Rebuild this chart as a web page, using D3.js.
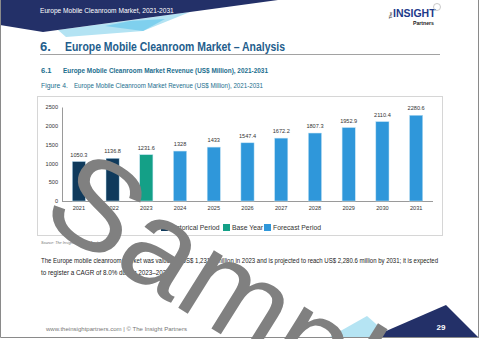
<!DOCTYPE html>
<html><head><meta charset="utf-8">
<script src="https://cdn.jsdelivr.net/npm/d3@7"></script>
<style>
html,body{margin:0;padding:0;background:#fff;}
svg{display:block;}
text{font-family:"Liberation Sans Narrow","Liberation Sans",Arial,sans-serif;}
</style></head>
<body>
<svg id="c" width="480" height="339"></svg>
<script>
const years = ["2021","2022","2023","2024","2025","2026","2027","2028","2029","2030","2031"];
const values = [1050.3,1136.8,1231.6,1328,1433,1547.4,1672.2,1807.3,1952.9,2110.4,2280.6];
const periods = ["Historical Period","Historical Period","Base Year","Forecast Period","Forecast Period","Forecast Period","Forecast Period","Forecast Period","Forecast Period","Forecast Period","Forecast Period"];
const legendItems = ["Historical Period","Base Year","Forecast Period"];
const yTicks = [0,500,1000,1500,2000,2500];
const periodColors = ["#0f3a5c","#14a087","#2f97da"];

const svg = d3.select("#c");

// page decoration
svg.append("polygon").attr("points","58,30 66,37 143,31 190,12 140,19").attr("fill","#b3e3f3");
svg.append("polygon").attr("points","105,26 143,31 165,19 130,21").attr("fill","#7fd0ee");
svg.append("polygon").attr("points","0,0 278,0 43,32 0,25").attr("fill","#233068");
svg.append("text").attr("x",40).attr("y",13).attr("fill","#fff").attr("font-size",6.6)
  .text("Europe Mobile Cleanroom Market, 2021-2031");

// logo
const logo = svg.append("g");
logo.append("text").attr("transform","translate(392,19) rotate(-90)").attr("font-size",4).attr("font-weight","bold").attr("fill","#333").text("The");
logo.append("text").attr("x",393).attr("y",17).attr("font-size",10.5).attr("font-weight","bold").attr("fill","#1d3a8a")
  .attr("font-family","Liberation Sans,Arial,sans-serif").text("INSIGHT");
logo.append("circle").attr("cx",437).attr("cy",7).attr("r",3.5).attr("fill","none").attr("stroke","#bbb").attr("stroke-width",0.8);
logo.append("text").attr("x",434).attr("y",25).attr("text-anchor","end").attr("font-size",5.2).attr("font-weight","bold").attr("fill","#222").text("Partners");

// headings
svg.append("text").attr("x",40).attr("y",51).attr("font-size",13).attr("font-weight","bold").attr("fill","#235d8c").text("6.");
svg.append("text").attr("x",65).attr("y",51).attr("font-size",13).attr("font-weight","bold").attr("fill","#235d8c")
  .attr("textLength",220).attr("lengthAdjust","spacingAndGlyphs")
  .text("Europe Mobile Cleanroom Market – Analysis");
svg.append("line").attr("x1",40).attr("x2",440).attr("y1",54.5).attr("y2",54.5).attr("stroke","#8a8a8a").attr("stroke-width",0.8);
svg.append("text").attr("x",41).attr("y",73).attr("font-size",7.6).attr("font-weight","bold").attr("fill","#1b6e8e").text("6.1");
svg.append("text").attr("x",63).attr("y",73).attr("font-size",7.6).attr("font-weight","bold").attr("fill","#1b6e8e")
  .attr("textLength",205).attr("lengthAdjust","spacingAndGlyphs")
  .text("Europe Mobile Cleanroom Market Revenue (US$ Million), 2021-2031");
svg.append("text").attr("x",41).attr("y",88).attr("font-size",6.8).attr("fill","#1b6e8e").text("Figure 4.");
svg.append("text").attr("x",74).attr("y",88).attr("font-size",6.8).attr("fill","#1b6e8e")
  .attr("textLength",189).attr("lengthAdjust","spacingAndGlyphs")
  .text("Europe Mobile Cleanroom Market Revenue (US$ Million), 2021-2031");

// chart box
svg.append("rect").attr("x",37.5).attr("y",96.5).attr("width",405).attr("height",139)
  .attr("fill","#fff").attr("stroke","#d6d6d6").attr("stroke-width",1);

const x = d3.scaleBand().domain(years).range([62,433]).paddingInner(0.61).paddingOuter(0.305);
const y = d3.scaleLinear().domain([0,2500]).range([201,107]);
const color = d3.scaleOrdinal().domain(legendItems).range(periodColors);

const yAxis = svg.append("g").attr("transform","translate(62,0)")
  .call(d3.axisLeft(y).tickValues(yTicks).tickFormat(d3.format("d")).tickSize(0).tickPadding(4));
yAxis.select(".domain").attr("stroke","#9a9a9a");
yAxis.selectAll("text").attr("font-size",5.6).attr("fill","#333").attr("font-family","Liberation Serif,serif");

const xAxis = svg.append("g").attr("transform","translate(0,201)")
  .call(d3.axisBottom(x).tickSize(0).tickPadding(5));
xAxis.select(".domain").attr("stroke","#9a9a9a").attr("d","M62,0.5H433");
xAxis.selectAll("text").attr("font-size",5.6).attr("fill","#333").attr("font-family","Liberation Serif,serif");

svg.append("g").selectAll("rect").data(years).join("rect")
  .attr("x",d=>x(d)).attr("width",x.bandwidth())
  .attr("y",(d,i)=>y(values[i])).attr("height",(d,i)=>y(0)-y(values[i]))
  .attr("fill",(d,i)=>color(periods[i])).attr("stroke","#bfe2f4").attr("stroke-width",0.5);

svg.append("g").selectAll("text").data(years).join("text")
  .attr("x",d=>x(d)+x.bandwidth()/2).attr("y",(d,i)=>y(values[i])-5)
  .attr("text-anchor","middle").attr("font-size",5.6).attr("fill","#333").attr("font-family","Liberation Serif,serif")
  .text((d,i)=>values[i]);

// legend
const legX = [161,223,264];
const leg = svg.append("g").selectAll("g").data(legendItems).join("g")
  .attr("transform",(d,i)=>`translate(${legX[i]},224)`);
leg.append("rect").attr("width",7).attr("height",7).attr("fill",d=>color(d));
leg.append("text").attr("x",9).attr("y",6.3).attr("font-size",6.8).attr("fill","#333")
  .attr("font-family","Liberation Sans,Arial,sans-serif").text(d=>d);

svg.append("text").attr("x",41).attr("y",244).attr("font-size",3.8).attr("font-style","italic").attr("fill","#777")
  .text("Source: The Insight Partners Analysis");

svg.append("text").attr("x",41).attr("y",263).attr("font-size",6.3).attr("fill","#222")
  .attr("textLength",397).attr("lengthAdjust","spacingAndGlyphs")
  .text("The Europe mobile cleanroom market was valued at US$ 1,231.6 million in 2023 and is projected to reach US$ 2,280.6 million by 2031; it is expected");
svg.append("text").attr("x",41).attr("y",275).attr("font-size",6.3).attr("fill","#222")
  .text("to register a CAGR of 8.0% during 2023–2031.");

// footer
svg.append("text").attr("x",46).attr("y",331).attr("font-size",5.6).attr("fill","#777")
  .attr("textLength",141).attr("lengthAdjust","spacingAndGlyphs")
  .text("www.theinsightpartners.com  |  © The Insight Partners");
svg.append("polygon").attr("points","328,338 367,316 392,338").attr("fill","#b5e4f3");
svg.append("polygon").attr("points","370,338 446,305 479,338").attr("fill","#233068");
svg.append("text").attr("x",441).attr("y",330).attr("text-anchor","middle").attr("font-size",8).attr("font-weight","bold").attr("fill","#fff")
  .attr("font-family","Liberation Sans,Arial,sans-serif").text("29");

// page border
svg.append("path").attr("d","M0.5,0V337.5H478.5V0").attr("fill","none").attr("stroke","#8a8a8a").attr("stroke-width",1);

// watermark
svg.append("text").attr("transform","translate(38,220) rotate(32)")
  .attr("font-size",128).attr("fill","#808080").attr("font-family","Liberation Sans,Arial,sans-serif")
  .text("Sample");
</script>
</body></html>
